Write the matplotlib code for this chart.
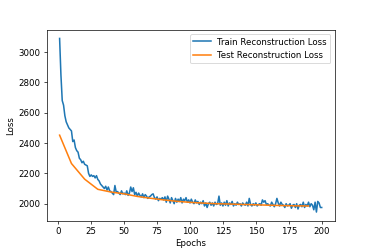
import matplotlib
matplotlib.use("Agg")
import matplotlib.pyplot as plt

# train loss for every epoch 1..200
train_loss = [
    3090, 2850, 2680, 2650, 2580, 2540, 2520, 2500, 2490, 2480,
    2410, 2420, 2370, 2350, 2340, 2300, 2290, 2270, 2280, 2260,
    2255, 2250, 2200, 2180, 2190, 2180, 2185, 2170, 2185, 2160,
    2150, 2130, 2120, 2110, 2100, 2115, 2090, 2110, 2085, 2080,
    2070, 2060, 2120, 2075, 2080, 2070, 2060, 2085, 2065, 2070,
    2060, 2085, 2055, 2070, 2110, 2080, 2105, 2060, 2075, 2050,
    2070, 2055, 2045, 2065, 2040, 2060, 2050, 2035, 2045, 2050,
    2060, 2065, 2040, 2030, 2045, 2020, 2035, 2030, 2040, 2025,
    2045, 2010, 2050, 2030, 2005, 2040, 2020, 2000, 2035, 2010,
    2030, 2015, 2040, 2005, 2030, 2020, 2040, 2010, 2025, 2005,
    2030, 2010, 2000, 2025, 2005, 2015, 1995, 2010, 2000, 2020,
    1985, 2005, 1975, 2000, 2010, 1990, 2005, 1985, 2010, 1995,
    2000, 2050, 1990, 2005, 1985, 2010, 1990, 2020, 1985, 2005,
    1995, 2015, 1985, 2000, 1990, 2010, 1995, 2000, 1985, 2005,
    1995, 1990, 2010, 1985, 2035, 1995, 1985, 2000, 1990, 2005,
    1985, 1995, 2000, 1990, 2025, 2010, 2020, 1995, 2000, 1990,
    1985, 2010, 1995, 1980, 2000, 2035, 2005, 1985, 2010, 1995,
    1990, 1975, 2000, 1985, 1990, 2000, 1970, 1990, 1995, 1975,
    2000, 1965, 1990, 1995, 1980, 2010, 1975, 1995, 1985, 2010,
    1980, 2000, 1990, 1960, 2010, 1945, 2015, 2005, 1975, 1975,
]
train_epochs = list(range(1, 201))

# test loss evaluated every 10 epochs
test_epochs = [1, 10, 20, 30, 40, 50, 60, 70, 80, 90, 100,
               110, 120, 130, 140, 150, 160, 170, 180, 190]
test_loss = [2452, 2265, 2162, 2095, 2077, 2065, 2048, 2036, 2025, 2016, 2009,
             2004, 2000, 1998, 1995, 1993, 1990, 1988, 1986, 1985]

plt.figure(figsize=(6, 4), dpi=62)
plt.plot(train_epochs, train_loss, linewidth=1.8, label="Train Reconstruction Loss")
plt.plot(test_epochs, test_loss, linewidth=1.8, label="Test Reconstruction Loss")
plt.xlabel("Epochs")
plt.ylabel("Loss")
plt.legend()
plt.savefig("out.png", dpi=62)
